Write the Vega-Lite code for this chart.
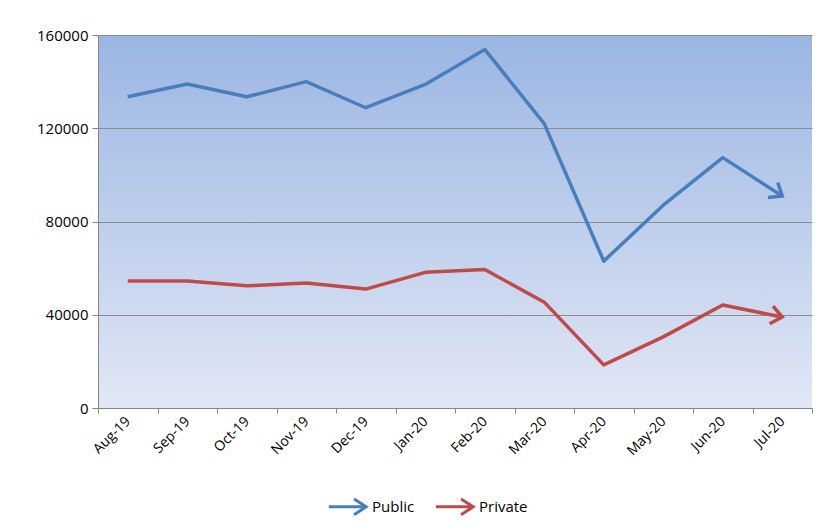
{
  "$schema": "https://vega.github.io/schema/vega-lite/v6.json",
  "width": 714,
  "height": 373,
  "autosize": {"type": "none"},
  "padding": {"left": 98, "top": 35, "right": 9, "bottom": 123},
  "background": "#ffffff",
  "config": {
    "view": {
      "stroke": null,
      "fill": {"gradient": "linear", "x1": 0, "y1": 0, "x2": 0, "y2": 1, "stops": [{"offset": 0, "color": "#9bb6e3"}, {"offset": 1, "color": "#e1e7f5"}]}
    },
    "font": "Open Sans",
    "axis": {"labelFont": "Open Sans", "labelColor": "#000000", "domainColor": "#868686", "tickColor": "#868686", "gridColor": "#8c8c8c", "titleFont": "Open Sans"},
    "legend": {"labelFont": "Open Sans"}
  },
  "data": {
    "values": [
      {"month": "Aug-19", "series": "Public", "value": 133500},
      {"month": "Sep-19", "series": "Public", "value": 139000},
      {"month": "Oct-19", "series": "Public", "value": 133500},
      {"month": "Nov-19", "series": "Public", "value": 140000},
      {"month": "Dec-19", "series": "Public", "value": 128800},
      {"month": "Jan-20", "series": "Public", "value": 138800},
      {"month": "Feb-20", "series": "Public", "value": 153800},
      {"month": "Mar-20", "series": "Public", "value": 122000},
      {"month": "Apr-20", "series": "Public", "value": 63000},
      {"month": "May-20", "series": "Public", "value": 87000},
      {"month": "Jun-20", "series": "Public", "value": 107400},
      {"month": "Jul-20", "series": "Public", "value": 90900},
      {"month": "Aug-19", "series": "Private", "value": 54500},
      {"month": "Sep-19", "series": "Private", "value": 54500},
      {"month": "Oct-19", "series": "Private", "value": 52400},
      {"month": "Nov-19", "series": "Private", "value": 53600},
      {"month": "Dec-19", "series": "Private", "value": 51000},
      {"month": "Jan-20", "series": "Private", "value": 58200},
      {"month": "Feb-20", "series": "Private", "value": 59400},
      {"month": "Mar-20", "series": "Private", "value": 45400},
      {"month": "Apr-20", "series": "Private", "value": 18500},
      {"month": "May-20", "series": "Private", "value": 30500},
      {"month": "Jun-20", "series": "Private", "value": 44200},
      {"month": "Jul-20", "series": "Private", "value": 39000}
    ]
  },
  "encoding": {
    "x": {
      "field": "month", "type": "ordinal", "sort": null,
      "scale": {"type": "band", "paddingInner": 0, "paddingOuter": 0},
      "axis": {"title": null, "labelAngle": -45, "labelAlign": "right", "labelBaseline": "middle", "labelFontSize": 14, "tickBand": "extent", "tickSize": 5, "labelPadding": 6, "domainWidth": 1}
    },
    "y": {
      "field": "value", "type": "quantitative",
      "scale": {"domain": [0, 160000], "nice": false},
      "axis": {"title": null, "values": [0, 40000, 80000, 120000, 160000], "format": "d", "labelFontSize": 15, "tickSize": 6, "labelPadding": 4, "gridWidth": 1}
    }
  },
  "layer": [
    {
      "mark": {"type": "line", "strokeWidth": 3.5, "strokeJoin": "round", "strokeCap": "butt"},
      "encoding": {
        "color": {
          "field": "series", "type": "nominal",
          "scale": {"domain": ["Public", "Private"], "range": ["#4a7ebb", "#be4b48"]},
          "legend": {
            "title": null, "orient": "none", "legendX": 229, "legendY": 451, "direction": "horizontal",
            "symbolType": "M-1,0L0.95,0M0.35,-0.42L1,0L0.35,0.42",
            "symbolSize": 1400, "symbolStrokeWidth": 3, "labelFontSize": 15, "labelColor": "#000000",
            "columnPadding": 14, "symbolOffset": 0, "labelOffset": 4
          }
        }
      }
    },
    {
      "transform": [{"filter": "datum.series === 'Public' && datum.month === 'Jul-20'"}],
      "mark": {"type": "point", "shape": "M-1,-0.8L0,0L-1,0.8", "filled": false, "size": 500, "strokeWidth": 3.5, "angle": 33, "color": "#4a7ebb", "opacity": 1, "strokeJoin": "miter"}
    },
    {
      "transform": [{"filter": "datum.series === 'Private' && datum.month === 'Jul-20'"}],
      "mark": {"type": "point", "shape": "M-1,-0.8L0,0L-1,0.8", "filled": false, "size": 500, "strokeWidth": 3.5, "angle": 11, "color": "#be4b48", "opacity": 1, "strokeJoin": "miter"}
    }
  ]
}
